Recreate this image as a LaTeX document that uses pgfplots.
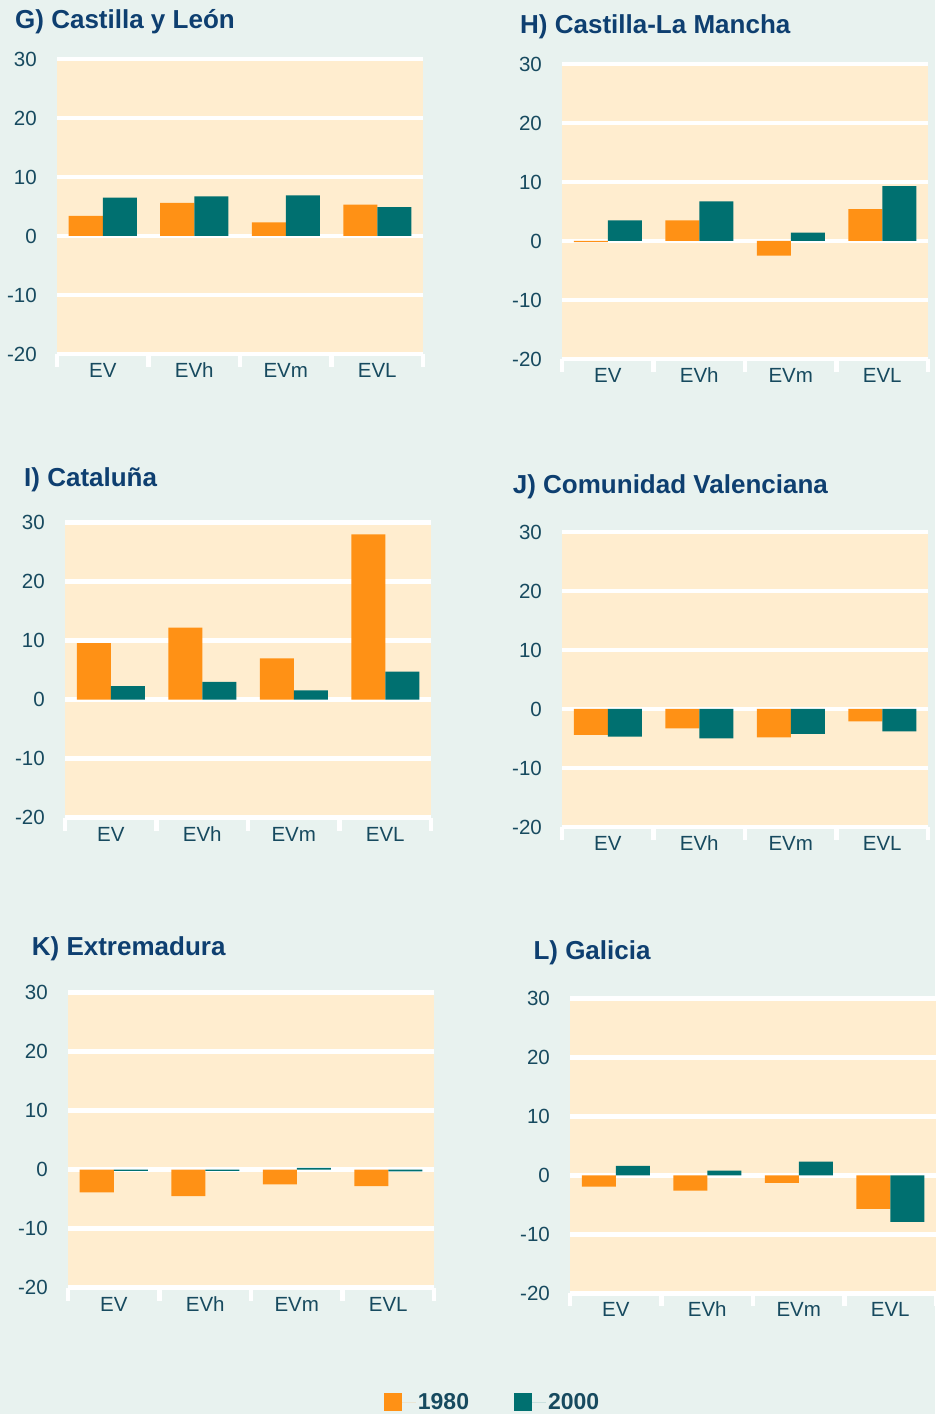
\documentclass[border=0pt]{standalone}
\usepackage{fontspec}
\setmainfont{Liberation Sans}
\usepackage{pgfplots}
\pgfplotsset{compat=1.18}
\definecolor{bgc}{HTML}{E8F2EF}
\definecolor{beigec}{HTML}{FFEDCF}
\definecolor{orangec}{HTML}{FF9115}
\definecolor{tealc}{HTML}{007070}
\definecolor{titlec}{HTML}{0E3F70}
\definecolor{tickc}{HTML}{174A5F}
\pgfplotsset{panel/.style={
  scale only axis, width=366pt, height=295pt,
  xmin=-0.5, xmax=3.5, ymin=-20, ymax=30,
  ytick={-20,-10,0,10,20,30}, yticklabels={-20,-10,0,10,20,30},
  xtick={0,1,2,3}, xticklabels={EV,EVh,EVm,EVL},
  minor xtick={-0.5,0.5,1.5,2.5,3.5},
  ymajorgrids, major grid style={white, line width=4.5pt},
  axis line style={draw=none},
  major tick length=0pt, minor tick length=13pt, tick align=inside,
  minor tick style={white, line width=4.5pt}, tick pos=left,
  axis background/.style={fill=beigec},
  ybar=0pt, bar width=34pt,
  ticklabel style={font=\fontsize{20.5}{24}\selectfont, text=tickc},
  yticklabel style={anchor=east, inner sep=0pt, xshift=-20pt},
  xticklabel style={anchor=base, inner sep=0pt, yshift=-23.5pt},
  anchor=south west,
}}
\newcommand{\paneltitle}[2]{\node[anchor=base west, inner sep=0pt, text=titlec, font=\bfseries\fontsize{26}{30}\selectfont] at #1 {#2};}
\begin{document}
\begin{tikzpicture}
\fill[bgc] (0pt,0pt) rectangle (935pt,1414pt);
% G
\begin{axis}[panel, at={(57pt,1060pt)}]
\addplot[fill=orangec, draw=none] coordinates {(0,3.4) (1,5.6) (2,2.3) (3,5.3)};
\addplot[fill=tealc, draw=none] coordinates {(0,6.5) (1,6.7) (2,6.9) (3,4.9)};
\end{axis}
\paneltitle{(15pt,1385pt)}{G) Castilla y León}
% H
\begin{axis}[panel, at={(562pt,1055pt)}]
\addplot[fill=orangec, draw=none] coordinates {(0,-0.2) (1,3.5) (2,-2.5) (3,5.4)};
\addplot[fill=tealc, draw=none] coordinates {(0,3.5) (1,6.7) (2,1.4) (3,9.3)};
\end{axis}
\paneltitle{(520pt,1380.7pt)}{H) Castilla-La Mancha}
% I
\begin{axis}[panel, at={(65pt,596.3pt)}]
\addplot[fill=orangec, draw=none] coordinates {(0,9.6) (1,12.2) (2,7.0) (3,28.0)};
\addplot[fill=tealc, draw=none] coordinates {(0,2.3) (1,3.0) (2,1.6) (3,4.75)};
\end{axis}
\paneltitle{(24pt,927.3pt)}{I) Cataluña}
% J
\begin{axis}[panel, at={(562pt,587pt)}]
\addplot[fill=orangec, draw=none] coordinates {(0,-4.4) (1,-3.3) (2,-4.8) (3,-2.1)};
\addplot[fill=tealc, draw=none] coordinates {(0,-4.7) (1,-5.0) (2,-4.2) (3,-3.8)};
\end{axis}
\paneltitle{(512.7pt,920.7pt)}{J) Comunidad Valenciana}
% K
\begin{axis}[panel, at={(68pt,126.3pt)},
  legend style={at={(1.16,-0.3875)}, anchor=center, draw=none, fill=none,
    legend columns=2, font=\bfseries\fontsize{23}{26}\selectfont, text=tickc,
    /tikz/every even column/.append style={column sep=43pt}},
  legend image code/.code={\fill[#1] (0pt,-9pt) rectangle (18pt,9pt); \path (0pt,0pt) rectangle (32pt,0pt);}]
\addplot[fill=orangec, draw=none] coordinates {(0,-3.85) (1,-4.5) (2,-2.5) (3,-2.8)};
\addlegendentry{1980}
\addplot[fill=tealc, draw=none] coordinates {(0,-0.2) (1,-0.2) (2,0.3) (3,-0.3)};
\addlegendentry{2000}
\end{axis}
\paneltitle{(31.7pt,458.3pt)}{K) Extremadura}
% L
\begin{axis}[panel, at={(570pt,120.7pt)}]
\addplot[fill=orangec, draw=none] coordinates {(0,-1.9) (1,-2.6) (2,-1.3) (3,-5.7)};
\addplot[fill=tealc, draw=none] coordinates {(0,1.6) (1,0.8) (2,2.3) (3,-7.9)};
\end{axis}
\paneltitle{(533.3pt,454pt)}{L) Galicia}
\pgfresetboundingbox
\useasboundingbox (0pt,0pt) rectangle (935pt,1414pt);
\end{tikzpicture}
\end{document}
